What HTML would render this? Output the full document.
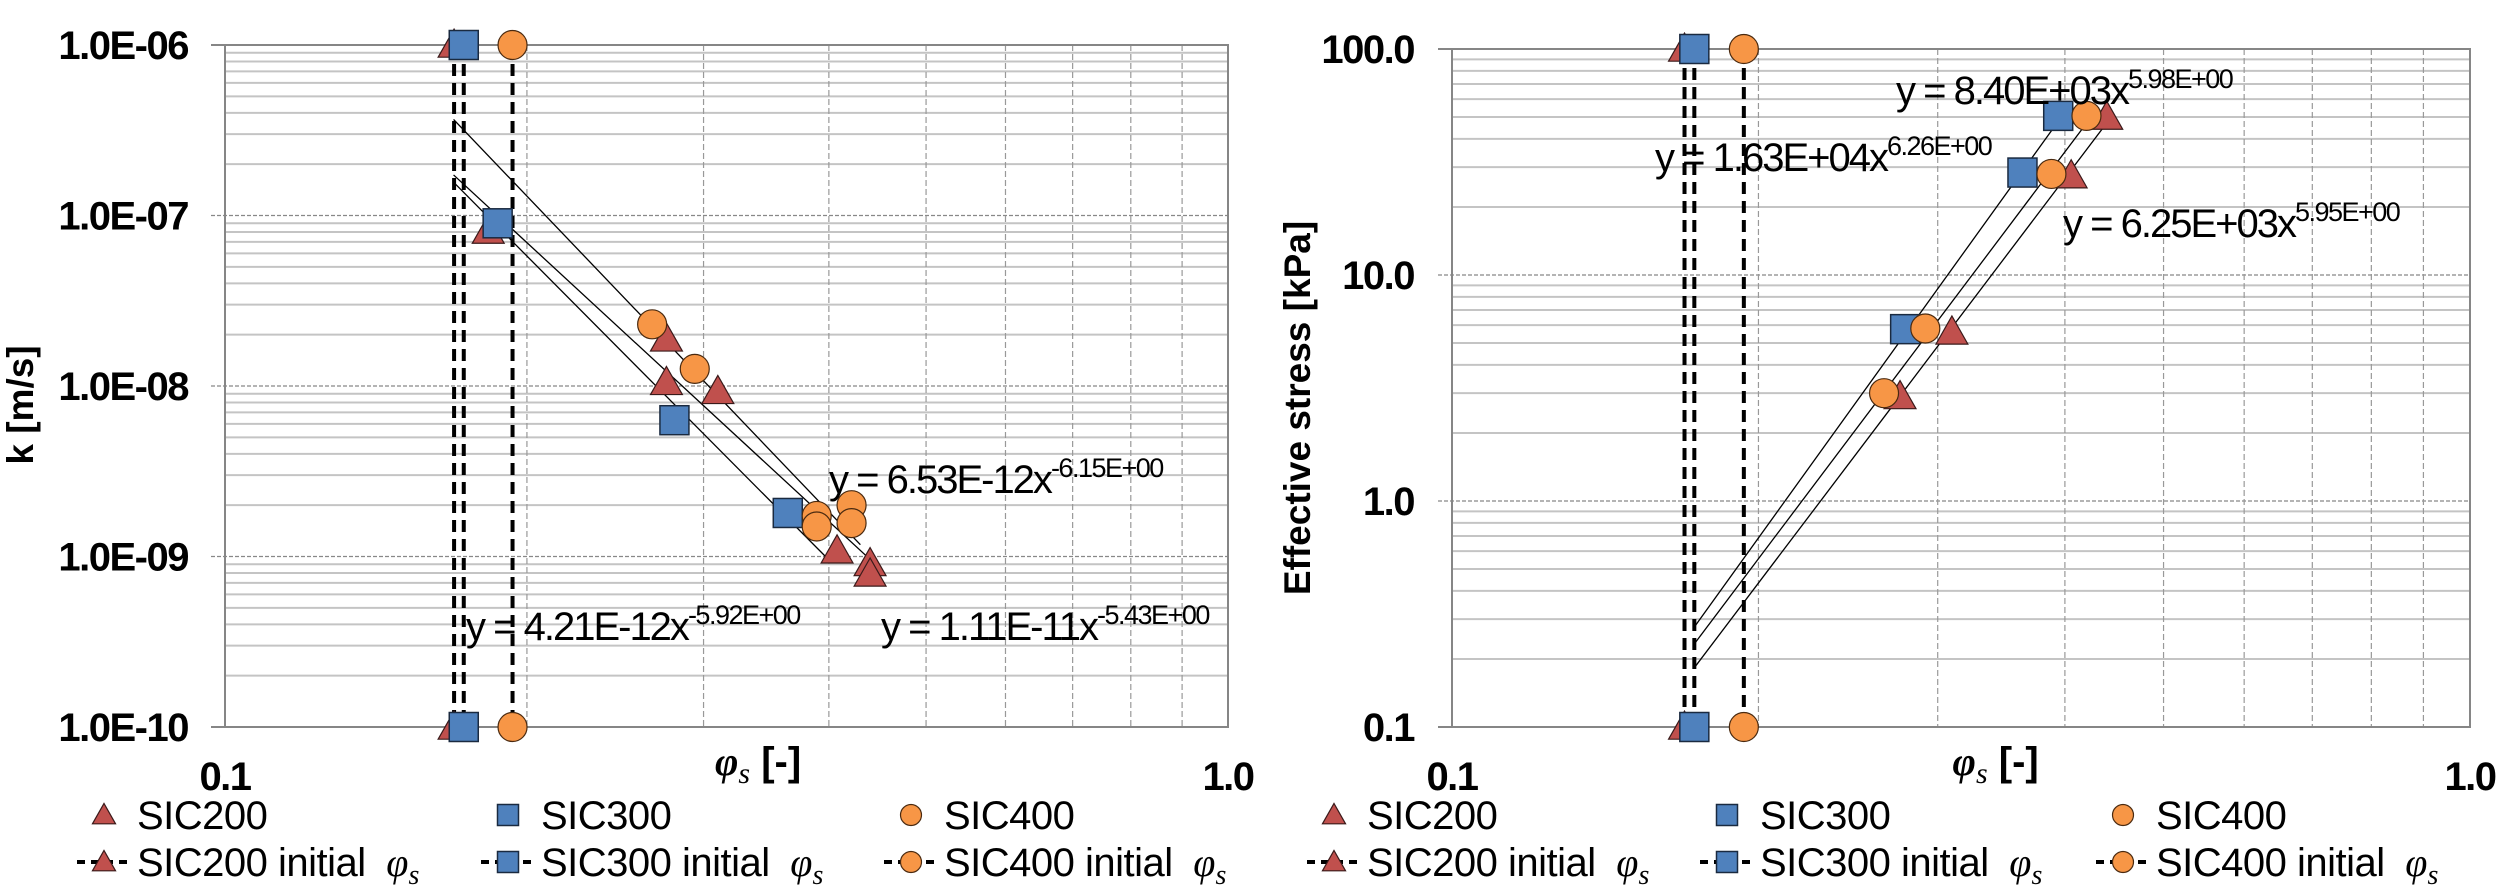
<!DOCTYPE html>
<html><head><meta charset="utf-8"><style>
html,body{margin:0;padding:0;background:#fff;}
svg{display:block;font-family:"Liberation Sans",sans-serif;}
</style></head><body>
<svg id="fig" width="2500" height="887" viewBox="0 0 2500 887" xmlns="http://www.w3.org/2000/svg">
<g id="left"></g>
<g id="right"></g>
</svg>
<script>
// ---- Left chart data: permeability k vs phi_s ----
const kS200x = [0.183, 0.2755, 0.2755, 0.310, 0.4076, 0.4397, 0.4397];
const kS200y = [8.1e-8, 1.89e-8, 1.05e-8, 9.3e-9, 1.08e-9, 9.1e-10, 7.9e-10];
const kS300x = [0.187, 0.2806, 0.364];
const kS300y = [9.0e-8, 6.3e-9, 1.8e-9];
const kS400x = [0.2666, 0.294, 0.389, 0.389, 0.4214, 0.4214];
const kS400y = [2.3e-8, 1.26e-8, 1.73e-9, 1.5e-9, 2.0e-9, 1.57e-9];
// power-law fits a*x^b
const kFitA = [1.11e-11, 4.21e-12, 6.53e-12];
const kFitB = [-5.43, -5.92, -6.15];
const kFitX0 = [0.169, 0.169, 0.169];
const kFitX1 = [0.44, 0.40, 0.43];
const kFitLabels = ["y = 1.11E-11x", "y = 4.21E-12x", "y = 6.53E-12x"];
const kFitSup = ["-5.43E+00", "-5.92E+00", "-6.15E+00"];
const kTickLabels = ["1.0E-06", "1.0E-07", "1.0E-08", "1.0E-09", "1.0E-10"];
const kTickValues = [1e-6, 1e-7, 1e-8, 1e-9, 1e-10];
// ---- Right chart data: effective stress vs phi_s ----
const sS200x = [0.2755, 0.3098, 0.4057, 0.4397];
const sS200y = [2.9, 5.6, 27.5, 50];
const sS300x = [0.2787, 0.3634, 0.394];
const sS300y = [5.76, 28.4, 50.6];
const sS400x = [0.2657, 0.2917, 0.388, 0.420];
const sS400y = [3.0, 5.8, 28, 50.6];
const sFitA = [6.25e3, 1.63e4, 8.40e3];
const sFitB = [5.95, 6.26, 5.98];
const sFitX0 = [0.1729, 0.1729, 0.1729];
const sFitX1 = [0.4397, 0.394, 0.420];
const sFitLabels = ["y = 6.25E+03x", "y = 1.63E+04x", "y = 8.40E+03x"];
const sFitSup = ["5.95E+00", "6.26E+00", "5.98E+00"];
const sTickLabels = ["100.0", "10.0", "1.0", "0.1"];
const sTickValues = [100, 10, 1, 0.1];
// initial phi_s (shared)
const initPhi = [0.1692, 0.173, 0.1935];
const xTickLabels = ["0.1", "1.0"];
const xTickValues = [0.1, 1.0];

const NS = "http://www.w3.org/2000/svg";
const COL = {tri:"#c0504d", sq:"#4f81bd", circ:"#f79646"};
function mk(tag, attrs, parent){
  const e = document.createElementNS(NS, tag);
  for (const k in attrs) e.setAttribute(k, attrs[k]);
  parent.appendChild(e);
  return e;
}
function marker(type, cx, cy, s, parent, name){
  let e;
  if (type === "tri") {
    e = mk("polygon", {points:`${cx},${cy-s*0.55} ${cx-s*0.55},${cy+s*0.42} ${cx+s*0.55},${cy+s*0.42}`, fill:COL.tri, stroke:"#3a1a1a", "stroke-width":1.2}, parent);
  } else if (type === "sq") {
    e = mk("rect", {x:cx-s/2, y:cy-s/2, width:s, height:s, fill:COL.sq, stroke:"#1a2a40", "stroke-width":1.5}, parent);
  } else {
    e = mk("circle", {cx:cx, cy:cy, r:s/2, fill:COL.circ, stroke:"#4a2a10", "stroke-width":1.2}, parent);
  }
  
  
  return e;
}

function drawChart(g, cfg){
  const X = v => cfg.xL + (Math.log10(v) + 1) * cfg.xDec;
  const Y = v => cfg.yTop + (cfg.yMaxExp - Math.log10(v)) * cfg.yDec;
  const xR = X(1), yB = Y(Math.pow(10, cfg.yMinExp));
  for (let e = cfg.yMinExp; e < cfg.yMaxExp; e++) {
    for (let m = 2; m <= 9; m++) {
      const y = Y(m * Math.pow(10, e));
      const l = mk("line", {x1:cfg.xL, x2:xR, y1:y, y2:y, stroke:"#c4c4c4", "stroke-width":2}, g);
      
      
    }
    if (e > cfg.yMinExp) {
      const y = Y(Math.pow(10, e));
      const l = mk("line", {x1:cfg.xL-14, x2:xR, y1:y, y2:y, stroke:"#888", "stroke-width":1.3, "stroke-dasharray":"4,2"}, g);
      
      
    }
  }
  for (let m = 2; m <= 9; m++) {
    const x = X(m / 10);
    const l = mk("line", {x1:x, x2:x, y1:cfg.yTop, y2:yB, stroke:"#999", "stroke-width":1.2, "stroke-dasharray":"6,3"}, g);
    
    
  }
  const fr = mk("rect", {x:cfg.xL, y:cfg.yTop, width:xR-cfg.xL, height:yB-cfg.yTop, fill:"none", stroke:"#868686", "stroke-width":2}, g);
  
  
  [cfg.yTop, yB].forEach(y => {
    const t = mk("line", {x1:cfg.xL-14, x2:cfg.xL, y1:y, y2:y, stroke:"#868686", "stroke-width":2}, g);
    
    
  });
  cfg.yTickValues.forEach((v, i) => {
    const t = mk("text", {x:cfg.yLabelX, y:Y(v)+14, "text-anchor":"end", "font-size":40, "font-weight":"bold", "letter-spacing":"-1.5"}, g);
    t.textContent = cfg.yTickLabels[i];
    
    
  });
  xTickValues.forEach((v, i) => {
    const t = mk("text", {x:X(v), y:790, "text-anchor":"middle", "font-size":40, "font-weight":"bold", "letter-spacing":"-1.5"}, g);
    t.textContent = xTickLabels[i];
    
    
  });
  const xt = mk("text", {x:X(cfg.xTitlePos), y:775, "text-anchor":"middle", "font-size":40, "font-weight":"bold"}, g);
  xt.innerHTML = '<tspan font-family="Liberation Serif, serif" font-style="italic">φ</tspan><tspan font-family="Liberation Serif, serif" font-style="italic" font-weight="normal" font-size="30" dy="8">s</tspan><tspan dy="-8"> [-]</tspan>';
  
  
  const yt = mk("text", {x:0, y:0, "text-anchor":"middle", "font-size":37, "font-weight":"bold", transform:`translate(${cfg.yTitleX},${cfg.yTitleY}) rotate(-90)`}, g);
  yt.textContent = cfg.yTitle;
  
  
  const types = ["tri", "sq", "circ"];
  const yHi = Math.pow(10, cfg.yMaxExp), yLo = Math.pow(10, cfg.yMinExp);
  initPhi.forEach((p, i) => {
    const l = mk("line", {x1:X(p), x2:X(p), y1:Y(yHi), y2:Y(yLo), stroke:"#000", "stroke-width":4, "stroke-dasharray":"12,7"}, g);
    
    
  });
  cfg.fitA.forEach((a, i) => {
    const b = cfg.fitB[i];
    const x0 = cfg.fitX0[i], x1 = cfg.fitX1[i];
    const l = mk("line", {x1:X(x0), y1:Y(a*Math.pow(x0,b)), x2:X(x1), y2:Y(a*Math.pow(x1,b)), stroke:"#000", "stroke-width":1.3}, g);
    
    
  });
  initPhi.forEach((p, i) => {
    marker(types[i], X(p), Y(yHi), 29, g, 'initial-marker-top');
    marker(types[i], X(p), Y(yLo), 29, g, 'initial-marker-bottom');
  });
  cfg.series.forEach((s, si) => {
    s.x.forEach((xv, j) => marker(types[si], X(xv), Y(s.y[j]), 29, g, 'data-point-' + ["sic200","sic300","sic400"][si]));
  });
  cfg.fitLabelPos.forEach((pos, i) => {
    const t = mk("text", {x:pos[0], y:pos[1], "font-size":40, "letter-spacing":"-2"}, g);
    t.innerHTML = cfg.fitLabels[i] + '<tspan font-size="27" dy="-16" letter-spacing="-1.5">' + cfg.fitSup[i] + '</tspan>';
    
    
  });
  const names = ["SIC200", "SIC300", "SIC400"];
  cfg.legendX.forEach((lx, i) => {
    marker(types[i], lx, 815, 21, g, 'legend-marker');
    const t = mk("text", {x:lx+33, y:829, "font-size":40, "letter-spacing":"-0.5"}, g);
    t.textContent = names[i];
    
    
    const ln = mk("line", {x1:lx-27, x2:lx+25, y1:862, y2:862, stroke:"#000", "stroke-width":4, "stroke-dasharray":"8,6"}, g);
    
    
    marker(types[i], lx, 862, 21, g, 'legend-marker');
    const t2 = mk("text", {x:lx+33, y:876, "font-size":40, "letter-spacing":"-0.5"}, g);
    t2.innerHTML = names[i] + ' initial <tspan font-family="Liberation Serif, serif" font-style="italic" letter-spacing="0" dx="10">φ</tspan><tspan font-family="Liberation Serif, serif" font-style="italic" font-size="28" dy="8">s</tspan>';
    
    
  });
}

drawChart(document.getElementById("left"), {
  xL:225, xDec:1003, yTop:45, yDec:170.5, yMaxExp:-6, yMinExp:-10,
  yTickValues:kTickValues, yTickLabels:kTickLabels, yLabelX:188,
  xTitlePos:0.34, yTitle:"k  [m/s]", yTitleX:33, yTitleY:405,
  fitA:kFitA, fitB:kFitB, fitX0:kFitX0, fitX1:kFitX1,
  fitLabels:kFitLabels, fitSup:kFitSup,
  fitLabelPos:[[881,640],[466,640],[829,493]],
  series:[{x:kS200x,y:kS200y},{x:kS300x,y:kS300y},{x:kS400x,y:kS400y}],
  legendX:[104,508,911]
});
drawChart(document.getElementById("right"), {
  xL:1452, xDec:1018, yTop:49, yDec:226, yMaxExp:2, yMinExp:-1,
  yTickValues:sTickValues, yTickLabels:sTickLabels, yLabelX:1414,
  xTitlePos:0.342, yTitle:"Effective stress [kPa]", yTitleX:1310, yTitleY:408,
  fitA:sFitA, fitB:sFitB, fitX0:sFitX0, fitX1:sFitX1,
  fitLabels:sFitLabels, fitSup:sFitSup,
  fitLabelPos:[[2063,237],[1655,171],[1896,104]],
  series:[{x:sS200x,y:sS200y},{x:sS300x,y:sS300y},{x:sS400x,y:sS400y}],
  legendX:[1334,1727,2123]
});
</script>
</body></html>
